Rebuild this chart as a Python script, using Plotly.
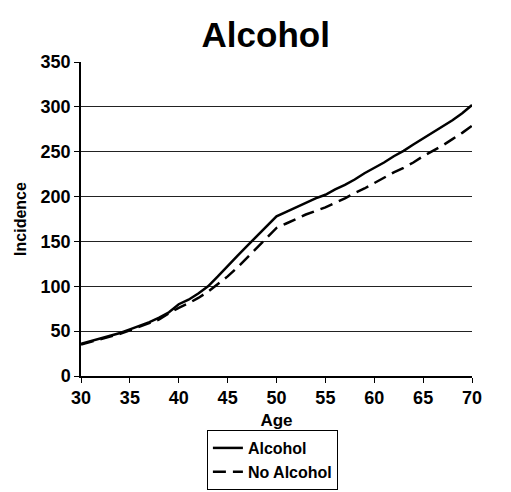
import plotly.graph_objects as go

# ── 데이터 ──────────────────────────────────────────────
ages = list(range(30, 71))
alcohol = [36, 39, 42, 45, 48, 52, 56, 60, 65, 71, 80, 85, 92, 100, 111,
           123, 134, 145, 156, 167, 178, 183, 188, 193, 198, 202, 208, 213, 219, 226,
           232, 238, 245, 251, 258, 265, 272, 278, 285, 293, 302]
no_alcohol = [35, 38, 41, 44, 47, 51, 55, 59, 63, 70, 76, 81, 87, 94, 102,
              111, 121, 132, 143, 154, 165, 170, 175, 180, 184, 188, 193, 198, 204, 209,
              215, 221, 227, 232, 238, 245, 251, 257, 264, 271, 279]

x_ticks = [30, 35, 40, 45, 50, 55, 60, 65, 70]
y_ticks = [0, 50, 100, 150, 200, 250, 300, 350]

_FONT = "Liberation Sans, Arial, sans-serif"

fig = go.Figure()
fig.add_trace(go.Scatter(
    x=ages, y=alcohol, name="Alcohol", mode="lines",
    line=dict(color="black", width=2.5),
))
fig.add_trace(go.Scatter(
    x=ages, y=no_alcohol, name="No Alcohol", mode="lines",
    line=dict(color="black", width=2.5, dash="13px,7px"),
))

fig.update_layout(
    width=511, height=492,
    paper_bgcolor="white", plot_bgcolor="white",
    font=dict(family=_FONT, color="black"),
    title=dict(text="<b>Alcohol</b>", x=0.52, xanchor="center", y=0.93, yanchor="middle",
               font=dict(size=35, family=_FONT)),
    margin=dict(l=81, r=39, t=62, b=116),
    showlegend=True,
    # 세로 위치는 container 기준 → 아래 여백을 밀어내지 않음
    legend=dict(
        xref="paper", yref="container",
        x=0.322, xanchor="left", y=0.126, yanchor="top",
        bordercolor="black", borderwidth=1, bgcolor="white",
        font=dict(size=16, family=_FONT, weight="bold"),
        tracegroupgap=0, itemwidth=30,
    ),
)

fig.update_xaxes(
    range=[30, 70], tickvals=x_ticks, automargin=False,
    showline=True, linecolor="black", linewidth=1.5,
    ticks="outside", ticklen=5, tickcolor="black",
    showgrid=False, zeroline=False,
    tickfont=dict(size=18, family=_FONT, weight="bold"),
    title=dict(text="<b>Age</b>", font=dict(size=17, family=_FONT), standoff=7),
)
fig.update_yaxes(
    range=[0, 350], tickvals=y_ticks, automargin=False,
    showline=True, linecolor="black", linewidth=1.5,
    ticks="outside", ticklen=5, tickcolor="black",
    showgrid=True, gridcolor="#222", gridwidth=1, zeroline=False,
    tickfont=dict(size=18, family=_FONT, weight="bold"),
    title=dict(text="<b>Incidence</b>", font=dict(size=16, family=_FONT), standoff=10),
)

# 브라우저 기본 body 여백(8px) 제거
fig.write_html("out.html", config=dict(displayModeBar=False),
               post_script="document.body.style.margin='0';")
